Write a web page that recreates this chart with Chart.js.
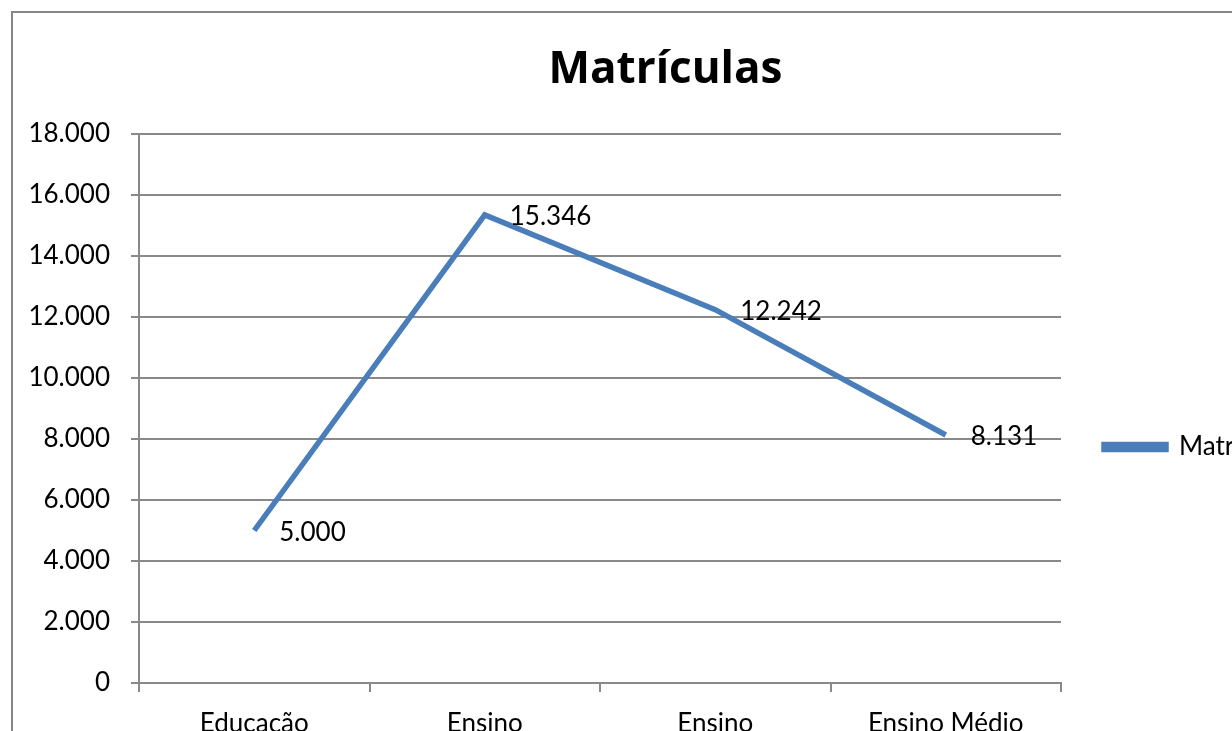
<!DOCTYPE html>
<html>
<head>
<meta charset="utf-8">
<script src="https://cdn.jsdelivr.net/npm/chart.js@4"></script>
<style>
  html, body { margin: 0; padding: 0; background: #fff; overflow: hidden; }
  #frame { position: absolute; left: 11px; top: 11px; width: 1400px; height: 1000px;
           border-left: 2px solid #878787; border-top: 2px solid #878787; }
  #wrap { position: absolute; left: 0; top: 0; width: 1303px; height: 894px; }
</style>
</head>
<body>
<div id="frame"></div>
<div id="wrap"><canvas id="myChart" width="1303" height="894"></canvas></div>
<script>
// categories (second lines fall below the visible area)
const categories = [
    ['Educação', 'Infantil'],
    ['Ensino', 'Fundamental I'],
    ['Ensino', 'Fundamental II'],
    ['Ensino Médio']
];
const seriesName = 'Matrículas';
const matriculas = [5000, 15346, 12242, 8131];
const yMin = 0;
const yMax = 18000;
const yStep = 2000;

const fmt = (v) => String(v).replace(/\B(?=(\d{3})+(?!\d))/g, '.');

const lineBlue = '#4A7EBB';
const gridGray = '#898989';
const baseFont = 'Lato, "Open Sans", sans-serif';
const canvasH = 894;
const plotBottom = 683;
const padLeft = 28;

const dataLabels = {
    id: 'dataLabels',
    afterDatasetsDraw(chart) {
        const ctx = chart.ctx;
        const meta = chart.getDatasetMeta(0);
        ctx.save();
        ctx.font = '26px ' + baseFont;
        ctx.fillStyle = '#000';
        ctx.textAlign = 'left';
        ctx.textBaseline = 'middle';
        meta.data.forEach((pt, i) => {
            ctx.fillText(fmt(matriculas[i]), pt.x + 25, pt.y + 2);
        });
        ctx.restore();
    }
};

const initChart = () => {
    const ctx = document.getElementById('myChart').getContext('2d');
    new Chart(ctx, {
        type: 'line',
        data: {
            labels: categories,
            datasets: [{
                label: seriesName,
                data: matriculas,
                borderColor: lineBlue,
                backgroundColor: lineBlue,
                borderWidth: 5.5,
                borderJoinStyle: 'miter',
                pointRadius: 0,
                tension: 0,
                fill: false
            }]
        },
        options: {
            responsive: false,
            devicePixelRatio: 1,
            animation: false,
            layout: { padding: { left: padLeft, right: 0, top: 0, bottom: 0 } },
            plugins: {
                title: {
                    display: true,
                    text: seriesName,
                    color: '#000',
                    font: { family: '"Open Sans", Lato, sans-serif', size: 44, weight: 'bold', lineHeight: 1.2 },
                    padding: { top: 43.6, bottom: 37.6 }
                },
                legend: {
                    position: 'right',
                    maxWidth: 242,
                    labels: {
                        boxWidth: 62,
                        boxHeight: 5,
                        padding: 43,
                        color: '#000',
                        font: { family: baseFont, size: 26 }
                    }
                },
                tooltip: { enabled: false }
            },
            scales: {
                x: {
                    offset: true,
                    grid: {
                        offset: true,
                        drawOnChartArea: false,
                        drawTicks: true,
                        tickLength: 9,
                        color: gridGray,
                        lineWidth: 2
                    },
                    border: { color: gridGray, width: 2 },
                    ticks: {
                        color: '#000',
                        font: { family: baseFont, size: 26 },
                        padding: 16,
                        maxRotation: 0,
                        autoSkip: false
                    },
                    afterFit: (scale) => { scale.height = canvasH - plotBottom; }
                },
                y: {
                    min: yMin,
                    max: yMax,
                    grid: {
                        color: gridGray,
                        lineWidth: 2,
                        tickLength: 8
                    },
                    border: { color: gridGray, width: 2 },
                    ticks: {
                        stepSize: yStep,
                        color: '#000',
                        font: { family: baseFont, size: 26 },
                        padding: 21,
                        callback: (v) => fmt(v)
                    },
                    afterFit: (scale) => { scale.width = 139 - padLeft; }
                }
            }
        },
        plugins: [dataLabels]
    });
};

document.addEventListener('DOMContentLoaded', initChart);
</script>
</body>
</html>
